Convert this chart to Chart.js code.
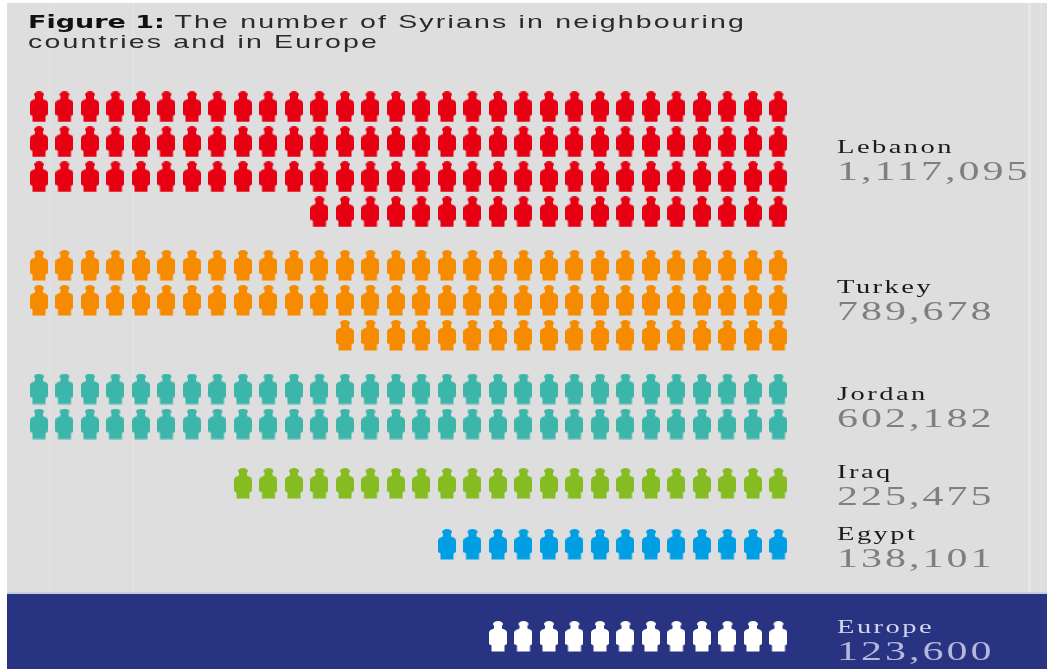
<!DOCTYPE html>
<html>
<head>
<meta charset="utf-8">
<script src="https://cdn.jsdelivr.net/npm/chart.js@4"></script>
<style>
html, body { margin: 0; padding: 0; background: #fff; }
#wrap { position: relative; width: 1047px; height: 669px; overflow: hidden; }
#panel { position: absolute; left: 7px; top: 3px; width: 1040px; height: 589px; background: #dedede; }
#band { position: absolute; left: 7px; top: 594px; width: 1040px; height: 75px; background: #283382; }
#edge { position: absolute; left: 7px; top: 592px; width: 1040px; height: 2px; background: #c9cde2; }
.stripe { position: absolute; top: 3px; height: 589px; background: #e6e6e6; }
canvas { position: absolute; left: 0; top: 0; }
.title { position: absolute; left: 28px; top: 12px; font: 19px/20px "Liberation Sans", sans-serif; letter-spacing: 1.45px; color: #2a2a2a; white-space: nowrap; transform: scaleX(1.5); transform-origin: left top; }
.title b { font-family: "DejaVu Sans", sans-serif; font-size: 18px; letter-spacing: 0; color: #111; }
.name, .num { position: absolute; left: 837px; font-family: "Liberation Serif", serif; white-space: nowrap; transform: scaleX(1.5); transform-origin: left top; }
.name { font-size: 19px; line-height: 22px; letter-spacing: 1.65px; color: #1a1a1a; }
.num { font-size: 28px; line-height: 34px; letter-spacing: 2px; color: #7f7f7f; }
.light.name { color: #d3d5ea; }
.light.num { color: #b4b8dc; }
</style>
</head>
<body>
<div id="wrap">
  <div id="panel"></div>
  <div class="stripe" style="left:49px;width:2px;background:#e1e1e1"></div>
  <div class="stripe" style="left:133px;width:1px"></div>
  <div class="stripe" style="left:1028px;width:3px"></div>
  <div class="stripe" style="left:1040px;width:2px;background:#e2e2e2"></div>
  <div id="edge"></div>
  <div id="band"></div>
  <canvas id="myChart" width="1047" height="669"></canvas>
  <div id="labels"></div>
</div>
<script>
const titleBold = "Figure 1:";
const titleLines = ["The number of Syrians in neighbouring", "countries and in Europe"];

const countries = ["Lebanon", "Turkey", "Jordan", "Iraq", "Egypt", "Europe"];
const totals = ["1,117,095", "789,678", "602,182", "225,475", "138,101", "123,600"];
// icons per row
const lebanonRows = [30, 30, 30, 19];
const turkeyRows = [30, 30, 18];
const jordanRows = [30, 30];
const iraqRows = [22];
const egyptRows = [14];
const europeRows = [12];
const colors = ["#e60012", "#f68b00", "#3cb6aa", "#84bc22", "#009fe3", "#ffffff"];

const allRows = [lebanonRows, turkeyRows, jordanRows, iraqRows, egyptRows, europeRows];
const gapAfter = [0.53, 0.53, 0.7, 0.74, 1.63];
const labelTop = [136, 276, 383, 461, 523, 616];

function personIcon(color) {
    const c = document.createElement('canvas');
    c.width = 18;
    c.height = 31;
    const g = c.getContext('2d');
    g.fillStyle = color;
    // head
    g.beginPath();
    g.ellipse(9, 3, 5, 3, 0, 0, Math.PI * 2);
    g.fill();
    // body
    g.beginPath();
    g.moveTo(5, 5);
    g.lineTo(13, 5);
    g.lineTo(13, 7.5);
    g.lineTo(16.5, 9);
    g.quadraticCurveTo(18, 10, 18, 12);
    g.lineTo(18, 23);
    g.lineTo(15.5, 24.5);
    g.lineTo(15.5, 30.5);
    g.lineTo(2.5, 30.5);
    g.lineTo(2.5, 24.5);
    g.lineTo(0, 23);
    g.lineTo(0, 12);
    g.quadraticCurveTo(0, 10, 1.5, 9);
    g.lineTo(5, 7.5);
    g.closePath();
    g.fill();
    return c;
}

const datasets = [];
let rowPos = 0;
allRows.forEach((rows, i) => {
    const points = [];
    rows.forEach(count => {
        for (let n = 30 - count; n < 30; n++) {
            points.push({ x: n, y: rowPos });
        }
        rowPos += 1;
    });
    rowPos += i < gapAfter.length ? gapAfter[i] : 0;
    datasets.push({
        label: countries[i],
        data: points,
        pointStyle: personIcon(colors[i]),
        pointRadius: 10,
        pointHoverRadius: 10
    });
});

new Chart(document.getElementById('myChart').getContext('2d'), {
    type: 'scatter',
    data: { datasets: datasets },
    options: {
        responsive: false,
        animation: false,
        events: [],
        layout: { padding: 0, autoPadding: false },
        plugins: { legend: { display: false }, tooltip: { enabled: false } },
        scales: {
            x: { type: 'linear', display: false, min: -1.529, max: 39.53 },
            y: { type: 'linear', display: false, reverse: true, min: -3.057, max: 16.06 }
        }
    }
});

// title and the labels on the right
const wrap = document.getElementById('labels');
const title = document.createElement('div');
title.className = 'title';
title.innerHTML = '<b>' + titleBold + '</b> ' + titleLines[0] + '<br>' + titleLines[1];
wrap.appendChild(title);

countries.forEach((name, i) => {
    const light = i === countries.length - 1 ? ' light' : '';
    const a = document.createElement('div');
    a.className = 'name' + light;
    a.style.top = labelTop[i] + 'px';
    a.textContent = name;
    const b = document.createElement('div');
    b.className = 'num' + light;
    b.style.top = (labelTop[i] + 18) + 'px';
    b.textContent = totals[i];
    wrap.appendChild(a);
    wrap.appendChild(b);
});
</script>
</body>
</html>
